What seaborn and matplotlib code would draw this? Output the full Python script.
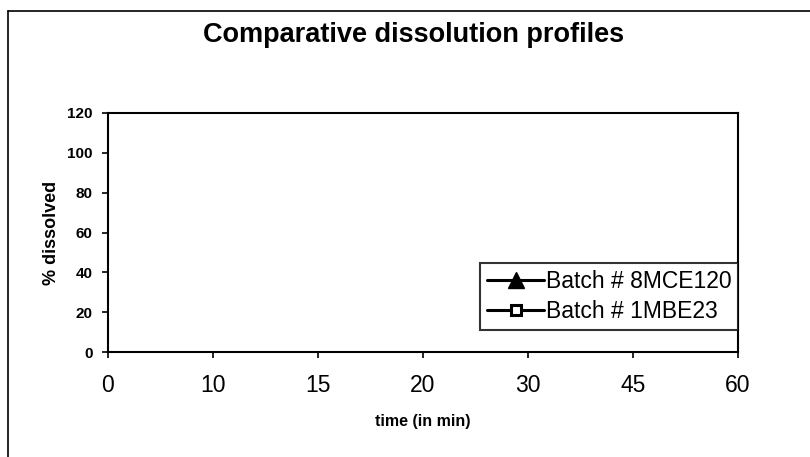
import numpy as np
import pandas as pd
import matplotlib
matplotlib.use("Agg")
import matplotlib.pyplot as plt
from matplotlib.lines import Line2D
import seaborn as sns

# ---- data ----
time_labels = ["0", "10", "15", "20", "30", "45", "60"]
# The plotted curves are not visible in the scanned reference; values unreadable
batch_8mce120 = [np.nan, np.nan, np.nan, np.nan, np.nan, np.nan, np.nan]
batch_1mbe23 = [np.nan, np.nan, np.nan, np.nan, np.nan, np.nan, np.nan]
series_names = ["Batch # 8MCE120", "Batch # 1MBE23"]
y_ticks = [0, 20, 40, 60, 80, 100, 120]

sns.set_theme(style="white")
plt.rcParams["font.family"] = ["Liberation Sans", "DejaVu Sans"]
plt.rcParams["text.color"] = "black"
plt.rcParams["axes.labelcolor"] = "black"
plt.rcParams["xtick.color"] = "black"
plt.rcParams["ytick.color"] = "black"

fig = plt.figure(figsize=(8.1, 4.57), dpi=100)
ax = fig.add_axes([108 / 810, 1 - 352 / 457, (738 - 108) / 810, (352 - 113) / 457])

pos = np.arange(len(time_labels))
df = pd.DataFrame({
    "pos": np.concatenate([pos, pos]),
    "val": batch_8mce120 + batch_1mbe23,
    "series": [series_names[0]] * len(pos) + [series_names[1]] * len(pos),
})
sub = df.dropna()
if len(sub):
    sns.lineplot(data=sub, x="pos", y="val", hue="series", style="series",
                 markers=["^", "s"], dashes=False, palette=["black", "black"],
                 ax=ax, legend=False)

ax.set_xlim(0, len(time_labels) - 1)
ax.set_ylim(0, 120)
ax.set_xticks(pos)
ax.set_xticklabels(time_labels, fontsize=16.5)
ax.set_yticks(y_ticks)
ax.set_yticklabels([str(v) for v in y_ticks], fontsize=11, fontweight="bold")
ax.tick_params(axis="both", direction="out", length=4, width=1.2,
               bottom=True, left=True)
ax.tick_params(axis="x", pad=12)
ax.tick_params(axis="y", pad=7)
for s in ax.spines.values():
    s.set_color("black")
    s.set_linewidth(1.5)

ax.set_xlabel("time (in min)", fontsize=11.5, fontweight="bold", labelpad=12)
ax.set_ylabel("% dissolved", fontsize=13, fontweight="bold", labelpad=5)

fig.text(414 / 810, 1 - 35 / 457, "Comparative dissolution profiles",
         ha="center", va="center", fontsize=19.5, fontweight="bold")

handles = [
    Line2D([], [], color="black", lw=2.2, marker="^", markersize=11),
    Line2D([], [], color="black", lw=2.2, marker="s", markersize=7,
           markerfacecolor="white", markeredgewidth=2.2),
]
leg = ax.legend(handles, series_names, loc="upper right",
                bbox_to_anchor=(1.0, (352 - 263) / (352 - 113)),
                borderaxespad=0, fontsize=16.5, frameon=True, fancybox=False,
                handlelength=2.5, handletextpad=0.05, borderpad=0.3,
                labelspacing=0.3)
leg.get_frame().set_edgecolor("black")
leg.get_frame().set_linewidth(1.5)
for t in leg.get_texts():
    t.set_color("black")

# outer chart border (left and top edges visible)
fig.add_artist(Line2D([8 / 810, 8 / 810], [0, 1 - 11 / 457], color="black", lw=1.2,
                      transform=fig.transFigure))
fig.add_artist(Line2D([8 / 810, 1], [1 - 11 / 457, 1 - 11 / 457], color="black", lw=1.2,
                      transform=fig.transFigure))

fig.savefig("out.png", dpi=100, facecolor="white")
